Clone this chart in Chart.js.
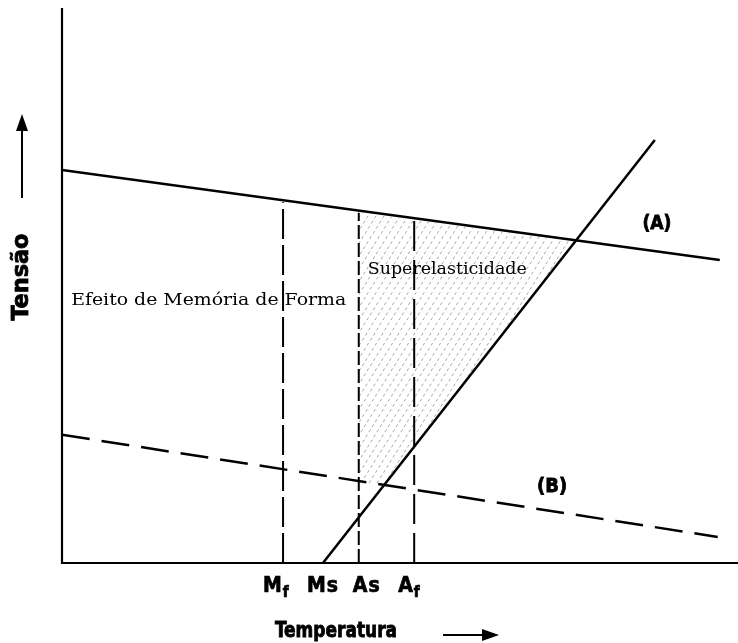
<!DOCTYPE html>
<html><head><meta charset="utf-8">
<script src="https://cdn.jsdelivr.net/npm/chart.js@4"></script>
<style>html,body{margin:0;padding:0;background:#fff;}canvas{display:block;}</style>
</head><body>
<canvas id="c" width="738" height="643"></canvas>
<script>
// ---- data (arbitrary units: temperature 0..100, stress 0..100) ----
const lineA_T = [0, 97.3];
const lineA_S = [70.8, 54.6];
const lineB_T = [0, 97.0];
const lineB_S = [23.1, 4.7];
const steep_T = [38.6, 87.7];
const steep_S = [0, 76.2];
const tickNames = ['Mf', 'Ms', 'As', 'Af'];
const tickValues = [32.7, 38.6, 43.9, 52.1];
const vLineT = [32.7, 43.9, 52.1];
const vLineTop = [65.0, 63.1, 61.8];
const shadeT = [43.9, 75.9, 47.5, 43.9, 43.9];
const shadeS = [63.1, 58.0, 14.1, 14.6, 63.1];
const regionLabels = ['Efeito de Memória de Forma', 'Superelasticidade', '(A)', '(B)'];
const regionT = [21.7, 57.0, 88.0, 72.5];
const regionS = [47.2, 52.8, 61.1, 13.7];
const yTitle = 'Tensão';
const xTitle = 'Temperatura';

const pts = (xs, ys) => xs.map((x, i) => ({x: x, y: ys[i]}));

const datasets = [
  {label: 'A', data: pts(lineA_T, lineA_S), showLine: true, borderColor: '#000', borderWidth: 2.5, pointRadius: 0, fill: false},
  {label: 'B', data: pts(lineB_T, lineB_S), showLine: true, borderColor: '#000', borderWidth: 2.5, borderDash: [28, 12], pointRadius: 0, fill: false},
  {label: 'steep', data: pts(steep_T, steep_S), showLine: true, borderColor: '#000', borderWidth: 2.5, pointRadius: 0, fill: false}
];
const dashes = [[30, 6], [14, 4], [30, 9]];
vLineT.forEach((t, i) => {
  datasets.push({label: 'v' + i, data: [{x: t, y: 0}, {x: t, y: vLineTop[i]}], showLine: true,
    borderColor: '#000', borderWidth: 2, borderDash: dashes[i], pointRadius: 0, fill: false});
});

const decor = {
  id: 'decor',
  beforeDatasetsDraw(chart) {
    const {ctx, scales: {x, y}} = chart;
    ctx.save();
    ctx.beginPath();
    shadeT.forEach((t, i) => {
      const px = x.getPixelForValue(t), py = y.getPixelForValue(shadeS[i]);
      if (i === 0) ctx.moveTo(px, py); else ctx.lineTo(px, py);
    });
    ctx.closePath();
    ctx.clip();
    ctx.strokeStyle = '#808080';
    ctx.lineWidth = 0.7;
    ctx.setLineDash([3, 3]);
    for (let k = -400; k < 900; k += 8) {
      ctx.beginPath();
      ctx.moveTo(k, 600);
      ctx.lineTo(k + 600 / 1.6, 0);
      ctx.stroke();
    }
    ctx.restore();
  },
  afterDatasetsDraw(chart) {
    const {ctx, chartArea: a, scales: {x, y}} = chart;
    ctx.save();
    // axes
    ctx.strokeStyle = '#000';
    ctx.lineWidth = 2.2;
    ctx.setLineDash([]);
    ctx.beginPath();
    ctx.moveTo(a.left, a.top);
    ctx.lineTo(a.left, a.bottom);
    ctx.lineTo(a.right, a.bottom);
    ctx.stroke();

    ctx.fillStyle = '#000';
    const fitText = (txt, cx, cy, font, w, heavy) => {
      ctx.font = font;
      const m = ctx.measureText(txt).width;
      ctx.save();
      ctx.translate(cx, cy);
      ctx.scale(w / m, 1);
      ctx.textAlign = 'center';
      ctx.textBaseline = 'middle';
      ctx.fillText(txt, 0, 0);
      if (heavy) { ctx.lineWidth = 0.8; ctx.strokeText(txt, 0, 0); }
      ctx.restore();
    };
    // region labels
    fitText(regionLabels[0], x.getPixelForValue(regionT[0]), y.getPixelForValue(regionS[0]), '16px "DejaVu Serif"', 275, false);
    fitText(regionLabels[1], x.getPixelForValue(regionT[1]), y.getPixelForValue(regionS[1]), '16px "DejaVu Serif"', 159, false);
    fitText(regionLabels[2], x.getPixelForValue(regionT[2]), y.getPixelForValue(regionS[2]), 'bold 20px "DejaVu Sans Condensed"', 29, true);
    fitText(regionLabels[3], x.getPixelForValue(regionT[3]), y.getPixelForValue(regionS[3]), 'bold 20px "DejaVu Sans Condensed"', 30, true);

    // tick labels
    const labelDx = [-20, -16, -6, -16];
    ctx.textAlign = 'left';
    ctx.textBaseline = 'alphabetic';
    ctx.lineWidth = 0.7;
    tickNames.forEach((nm, i) => {
      let px = x.getPixelForValue(tickValues[i]) + labelDx[i];
      const base = a.bottom + 29;
      const main = nm[0], rest = nm.slice(1);
      ctx.font = 'bold 21px "DejaVu Sans Condensed"';
      ctx.fillText(main, px, base); ctx.strokeText(main, px, base);
      px += ctx.measureText(main).width + 1;
      if (rest === 'f') {
        ctx.font = 'bold 15px "DejaVu Sans Condensed"';
        ctx.fillText(rest, px, base + 5); ctx.strokeText(rest, px, base + 5);
      } else {
        ctx.fillText(rest, px, base); ctx.strokeText(rest, px, base);
      }
    });

    // x title + arrow
    fitText(xTitle, 336, 632, 'bold 21px "DejaVu Sans Condensed"', 122, true);
    ctx.lineWidth = 2;
    ctx.beginPath(); ctx.moveTo(443, 635); ctx.lineTo(484, 635); ctx.stroke();
    ctx.beginPath(); ctx.moveTo(499, 635); ctx.lineTo(482, 629); ctx.lineTo(482, 641); ctx.closePath(); ctx.fill();

    // y title + arrow
    ctx.save();
    ctx.translate(22, 277);
    ctx.rotate(-Math.PI / 2);
    fitText(yTitle, 0, 0, 'bold 23px "DejaVu Sans Condensed"', 87, true);
    ctx.restore();
    ctx.lineWidth = 2;
    ctx.beginPath(); ctx.moveTo(22, 198); ctx.lineTo(22, 128); ctx.stroke();
    ctx.beginPath(); ctx.moveTo(22, 114); ctx.lineTo(16, 131); ctx.lineTo(28, 131); ctx.closePath(); ctx.fill();
    ctx.restore();
  }
};

new Chart(document.getElementById('c'), {
  type: 'scatter',
  data: {datasets: datasets},
  options: {
    responsive: false,
    animation: false,
    devicePixelRatio: 1,
    layout: {padding: {left: 62, right: 0, top: 8, bottom: 80}},
    scales: {
      x: {type: 'linear', min: 0, max: 100, display: false},
      y: {type: 'linear', min: 0, max: 100, display: false}
    },
    plugins: {legend: {display: false}, tooltip: {enabled: false}}
  },
  plugins: [decor]
});
</script>
</body></html>
